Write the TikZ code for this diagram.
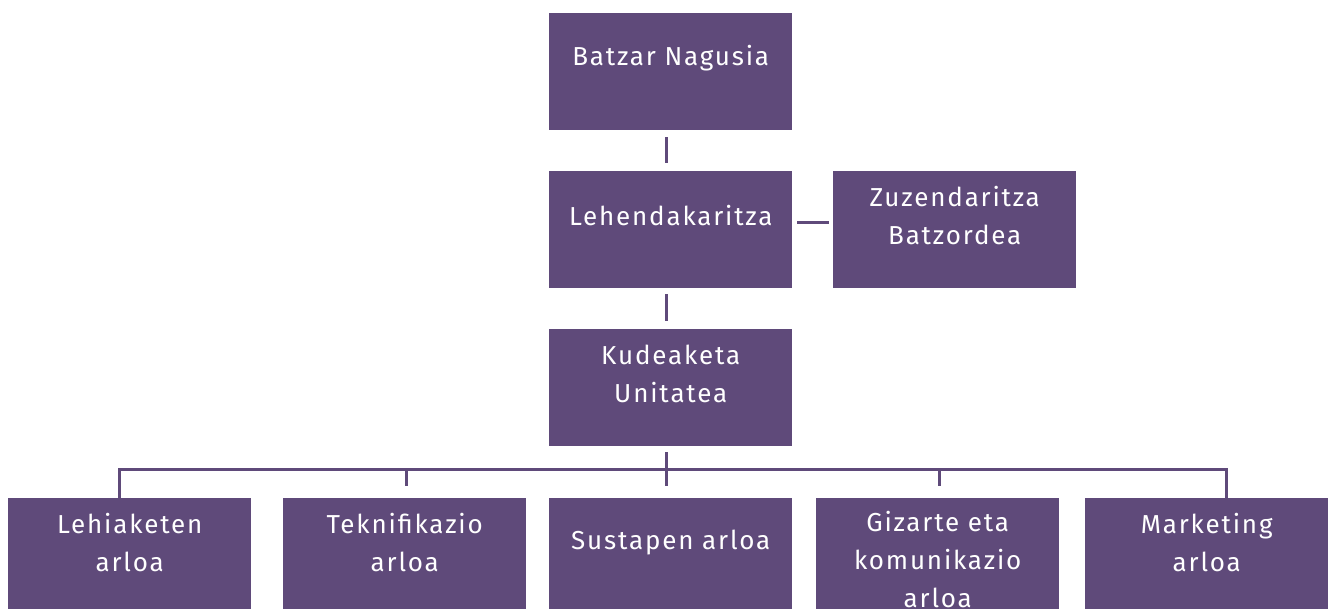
\documentclass[tikz,border=0pt]{standalone}
\usepackage{fontspec}
\setmainfont{Fira Sans}[LetterSpace=7]
\definecolor{arloa}{RGB}{95,74,122}
\tikzset{
  box/.style={fill=arloa, minimum width=243pt, minimum height=117pt, inner sep=0pt, anchor=north west},
  txt/.style={text=white, align=center, font=\fontsize{26}{38}\selectfont, inner sep=0pt},
  conn/.style={draw=arloa, line width=3pt}
}
\begin{document}
\begin{tikzpicture}[x=1pt,y=-1pt]
 \useasboundingbox (0,0) rectangle (1333,608);
 \clip (0,0) rectangle (1333,608);
  % Draw boxes
  \node[box] (batzar) at (549,13)  {};
  \node[box] (lehen)  at (549,171) {};
  \node[box] (zuzen)  at (833,171) {};
  \node[box] (kude)   at (549,329) {};
  \node[box] (lehia)  at (8,498)   {};
  \node[box] (tekni)  at (283,498) {};
  \node[box] (susta)  at (549,498) {};
  \node[box] (gizar)  at (816,498) {};
  \node[box] (marke)  at (1085,498) {};
  % Draw texts
  \node[txt] (batzar-t) at ([yshift=-45pt]batzar.north) {Batzar Nagusia};
  \node[txt] (lehen-t)  at ([yshift=-45pt]lehen.north)  {Lehendakaritza};
  \node[txt] (zuzen-t)  at ([yshift=-45pt]zuzen.north)  {Zuzendaritza\\Batzordea};
  \node[txt] (kude-t)   at ([yshift=-45pt]kude.north)   {Kudeaketa\\Unitatea};
  \node[txt] (lehia-t)  at ([yshift=-45pt]lehia.north)  {Lehiaketen\\arloa};
  \node[txt] (tekni-t)  at ([yshift=-45pt]tekni.north)  {Teknifikazio\\arloa};
  \node[txt] (susta-t)  at ([yshift=-45pt]susta.north)  {Sustapen arloa};
  \node[txt] (gizar-t)  at ([yshift=-62pt]gizar.north)  {Gizarte eta\\komunikazio\\arloa};
  \node[txt] (marke-t)  at ([yshift=-45pt]marke.north)  {Marketing\\arloa};
  % Draw connectors
  \draw[conn, shorten <=7pt, shorten >=8pt] ([xshift=-4pt]batzar.south) -- ([xshift=-4pt]lehen.north);
  \draw[conn, shorten <=5pt, shorten >=4pt] ([yshift=7pt]lehen.east) -- ([yshift=7pt]zuzen.west);
  \draw[conn, shorten <=6pt, shorten >=8pt] ([xshift=-4pt]lehen.south) -- ([xshift=-4pt]kude.north);
  % Draw bus
  \coordinate (bus1) at (119,469);
  \coordinate (bus2) at (406,469);
  \coordinate (bus3) at (666,469);
  \coordinate (bus4) at (939,469);
  \coordinate (bus5) at (1226,469);
  \draw[conn, shorten <=6pt, shorten >=12pt] (bus3 |- kude.south) -- (bus3 |- susta.north);
  \draw[conn] ([yshift=-1.5pt]bus1 |- lehia.north) |- (bus3) -| ([yshift=-1.5pt]bus5 |- marke.north);
  \draw[conn, shorten >=12pt] (bus1) -- (bus1 |- lehia.north);
  \draw[conn, shorten >=12pt] (bus2) -- (bus2 |- tekni.north);
  \draw[conn, shorten >=12pt] (bus4) -- (bus4 |- gizar.north);
  \draw[conn, shorten >=12pt] (bus5) -- (bus5 |- marke.north);
\end{tikzpicture}
\end{document}
